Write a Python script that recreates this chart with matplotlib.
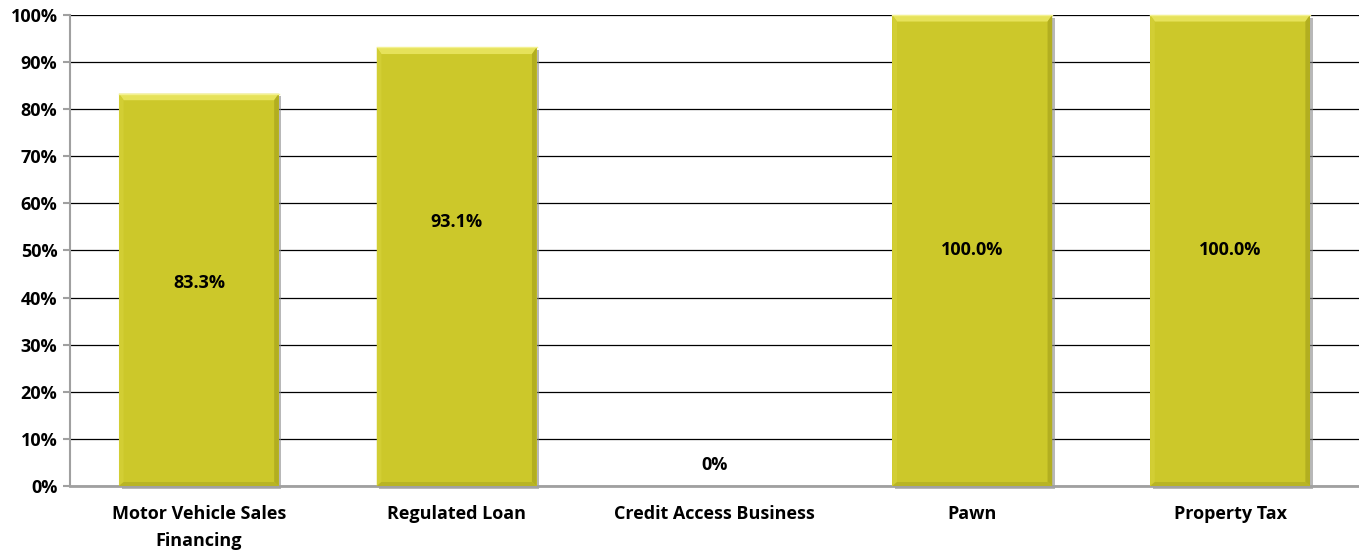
import matplotlib.pyplot as plt
from matplotlib.patches import Polygon, Rectangle
from matplotlib.ticker import PercentFormatter

categories = ['Motor Vehicle Sales\nFinancing', 'Regulated Loan', 'Credit Access Business', 'Pawn', 'Property Tax']
values = [83.3, 93.1, 0.0, 100.0, 100.0]
labels = ['83.3%', '93.1%', '0%', '100.0%', '100.0%']
label_y = [43.0, 56.0, 4.5, 50.0, 50.0]

plt.rcParams['font.family'] = ['Open Sans', 'DejaVu Sans']

fig = plt.figure(figsize=(13.59, 5.52), dpi=100)
ax = fig.add_axes([0.0515, 0.1196, 0.9485, 0.8533])

width = 0.62
face = '#CCC82A'
bev = 1.4   # bevel depth, y (percent)
bevx = 0.018  # bevel depth, x (category units)

for i, v in enumerate(values):
    if v <= 0:
        continue
    x0, x1 = i - width / 2, i + width / 2
    # drop shadow
    ax.add_patch(Rectangle((x0 + 0.01, -0.6), width, v, facecolor='#8a8a8a', alpha=0.6,
                           edgecolor='none', zorder=2, clip_on=False))
    ax.add_patch(Rectangle((x0, 0), width, v, facecolor=face, edgecolor='none', zorder=3,
                           clip_on=False))
    # bevel faces: top, left, right, bottom
    ax.add_patch(Polygon([(x0, v), (x1, v), (x1 - bevx, v - bev), (x0 + bevx, v - bev)],
                         facecolor='#E6E25A', edgecolor='none', zorder=4, clip_on=False))
    ax.add_patch(Polygon([(x0, 0), (x0, v), (x0 + bevx, v - bev), (x0 + bevx, bev * 0.6)],
                         facecolor='#D2CE34', edgecolor='none', zorder=4, clip_on=False))
    ax.add_patch(Polygon([(x1, 0), (x1, v), (x1 - bevx, v - bev), (x1 - bevx, bev * 0.6)],
                         facecolor='#B2AE20', edgecolor='none', zorder=4, clip_on=False))
    ax.add_patch(Polygon([(x0, 0), (x1, 0), (x1 - bevx, bev * 0.6), (x0 + bevx, bev * 0.6)],
                         facecolor='#B8B424', edgecolor='none', zorder=4, clip_on=False))
    ax.plot([x0, x1], [v, v], color='#F3F190', lw=1, zorder=5, clip_on=False)

for i, (t, y) in enumerate(zip(labels, label_y)):
    ax.text(i, y, t, ha='center', va='center', fontsize=13, fontweight='bold', zorder=6)

ax.set_xlim(-0.5, 4.5)
ax.set_ylim(0, 100)
ax.set_yticks(range(0, 101, 10))
ax.yaxis.set_major_formatter(PercentFormatter(decimals=0))
ax.set_xticks(range(len(categories)))
ax.set_xticklabels(categories, fontsize=13, fontweight='bold', linespacing=1.6)
for lbl in ax.get_yticklabels():
    lbl.set_fontweight('bold')
    lbl.set_fontsize(13)

ax.yaxis.grid(True, color='black', lw=0.9, zorder=1)
ax.set_axisbelow(True)
for s in ['top', 'right']:
    ax.spines[s].set_visible(False)
ax.spines['left'].set_color('#a0a0a0')
ax.spines['left'].set_linewidth(1.5)
ax.spines['bottom'].set_color('#a0a0a0')
ax.spines['bottom'].set_linewidth(2)
ax.tick_params(axis='y', length=5, width=1.5, color='#a0a0a0', pad=4)
ax.tick_params(axis='x', length=0, pad=14)

fig.savefig('out.png', dpi=100)
